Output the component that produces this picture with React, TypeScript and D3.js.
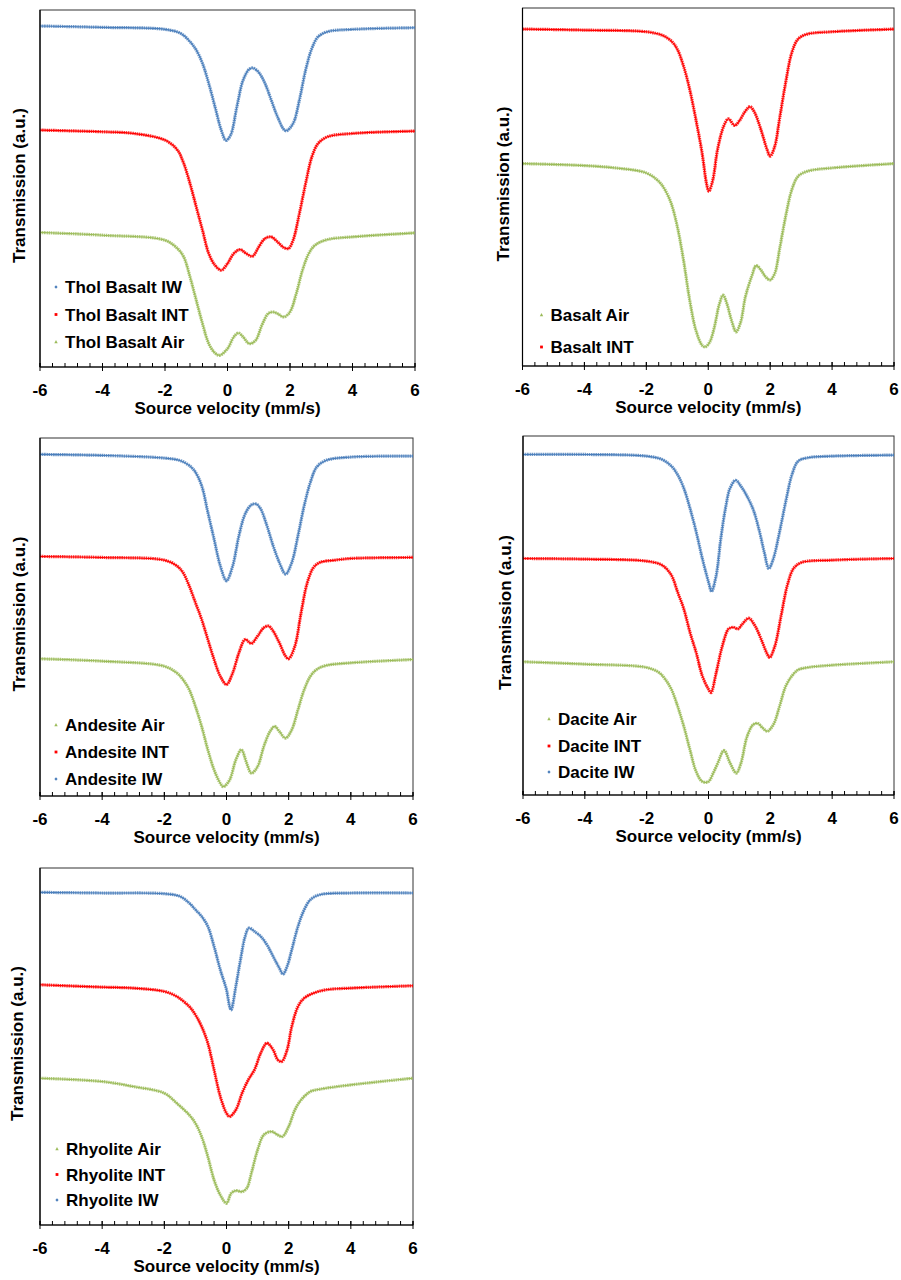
import React from "react";
import * as d3 from "d3";

type Pt = [number, number];

// ---------- DATA (source velocity mm/s, transmission a.u.) ----------
const xTicks = [-6, -4, -2, 0, 2, 4, 6];

const tholBasaltIW: Pt[] = [
  [-6, 102.2], [-4, 101.8], [-2, 101.2], [-1.5, 100], [-1.2, 97.5], [-1.0, 95], [-0.8, 91],
  [-0.6, 85], [-0.4, 78], [-0.2, 71], [-0.05, 67.9], [0.1, 69.5], [0.3, 78], [0.5, 86],
  [0.7, 89.3], [0.82, 89.6], [1.0, 88.3], [1.2, 85], [1.4, 80], [1.6, 75], [1.8, 71.2],
  [1.88, 70.8], [2.1, 73], [2.3, 80], [2.5, 89], [2.7, 95.5], [2.9, 99], [3.2, 100.5],
  [4, 101.2], [6, 101.7],
];
const tholBasaltINT: Pt[] = [
  [-6, 71], [-4, 70.5], [-3, 70], [-2, 68], [-1.6, 65], [-1.4, 61], [-1.2, 55], [-1.0, 48],
  [-0.8, 41], [-0.6, 34], [-0.4, 30.5], [-0.2, 29], [0, 31], [0.2, 34], [0.4, 35.2],
  [0.6, 34], [0.8, 33.2], [1.0, 36], [1.2, 38.5], [1.4, 39], [1.6, 37.5], [1.8, 35.8],
  [1.95, 35.5], [2.1, 38], [2.3, 46], [2.5, 55], [2.7, 63], [2.9, 67], [3.2, 69], [4, 70],
  [6, 70.7],
];
const tholBasaltAir: Pt[] = [
  [-6, 40.3], [-4, 39.5], [-2, 38], [-1.6, 35.5], [-1.4, 33], [-1.2, 27], [-1.0, 20],
  [-0.8, 13], [-0.6, 7], [-0.4, 4.2], [-0.25, 3.5], [0, 5.5], [0.2, 9], [0.35, 10.2],
  [0.5, 9], [0.7, 7], [0.9, 8], [1.1, 12.5], [1.3, 16], [1.45, 16.5], [1.6, 16], [1.8, 15],
  [2.0, 16.5], [2.2, 22], [2.4, 29], [2.6, 34], [2.8, 36.5], [3.2, 38.2], [4, 39], [6, 40.2],
];

const basaltINT: Pt[] = [
  [-6, 100.7], [-4, 100.4], [-2, 99.9], [-1.5, 98.9], [-1.2, 97.2], [-1.0, 94.7], [-0.8, 89.7],
  [-0.6, 82.7], [-0.4, 73.7], [-0.2, 63.7], [-0.05, 54.2], [0.02, 52.2], [0.15, 55.7],
  [0.3, 64.7], [0.5, 71.7], [0.65, 73.9], [0.85, 71.9], [1.0, 73.2], [1.2, 76.2],
  [1.35, 77.5], [1.5, 75.7], [1.7, 70.7], [1.9, 64.7], [2.0, 62.7], [2.15, 65.7],
  [2.3, 73.7], [2.5, 84.7], [2.7, 93.7], [2.9, 97.7], [3.2, 99.2], [4, 99.9], [6, 100.7],
];
const basaltAir: Pt[] = [
  [-6, 60.5], [-4, 59.9], [-3, 59.2], [-2, 57.7], [-1.6, 55.2], [-1.4, 52.7], [-1.2, 48.7],
  [-1.0, 41.7], [-0.8, 31.7], [-0.6, 19.7], [-0.4, 10.7], [-0.2, 6.2], [-0.1, 5.7],
  [0.05, 7.2], [0.2, 11.7], [0.35, 18.2], [0.48, 21.2], [0.6, 18.7], [0.75, 13.7],
  [0.9, 10.2], [1.05, 13.2], [1.2, 20.7], [1.4, 26.7], [1.55, 30.0], [1.7, 28.7],
  [1.85, 26.7], [2.0, 25.7], [2.15, 27.7], [2.3, 34.7], [2.5, 44.7], [2.7, 52.7],
  [2.9, 56.7], [3.2, 58.2], [4, 59.2], [6, 60.5],
];

const andesiteIW: Pt[] = [
  [-6, 102.1], [-4, 101.8], [-2, 101.0], [-1.5, 100.3], [-1.2, 98.8], [-1.0, 96.8],
  [-0.8, 92.8], [-0.6, 84.8], [-0.4, 76.8], [-0.2, 68.8], [0, 64.3], [0.2, 68.8],
  [0.4, 77.8], [0.6, 84.3], [0.8, 87.0], [0.95, 87.3], [1.1, 85.8], [1.3, 80.8],
  [1.5, 74.8], [1.7, 69.8], [1.9, 66.3], [2.1, 69.8], [2.3, 77.8], [2.5, 86.8],
  [2.7, 93.8], [2.9, 98.3], [3.2, 100.3], [4, 101.3], [6, 101.6],
];
const andesiteINT: Pt[] = [
  [-6, 71.6], [-4, 71.3], [-2, 70.5], [-1.6, 68.8], [-1.4, 66.8], [-1.2, 62.8], [-1.0, 57.8],
  [-0.8, 52.8], [-0.6, 46.8], [-0.4, 40.8], [-0.2, 35.8], [0, 33.3], [0.2, 36.8],
  [0.4, 42.8], [0.6, 46.8], [0.8, 45.6], [1.0, 47.8], [1.2, 50.3], [1.35, 50.8],
  [1.5, 49.3], [1.7, 45.8], [1.9, 41.8], [2.0, 41.0], [2.2, 44.8], [2.4, 54.8],
  [2.6, 63.8], [2.8, 68.3], [3.0, 69.8], [3.5, 70.5], [4, 71.0], [6, 71.3],
];
const andesiteAir: Pt[] = [
  [-6, 41.0], [-4, 40.3], [-2, 38.8], [-1.6, 36.8], [-1.4, 34.8], [-1.2, 31.8], [-1.0, 26.8],
  [-0.8, 20.8], [-0.6, 13.8], [-0.4, 7.8], [-0.2, 3.8], [-0.1, 2.8], [0.1, 4.8],
  [0.3, 10.8], [0.48, 13.8], [0.65, 9.8], [0.8, 6.8], [1.0, 8.8], [1.2, 14.8],
  [1.4, 19.3], [1.55, 20.8], [1.7, 19.3], [1.9, 17.3], [2.1, 19.8], [2.3, 25.8],
  [2.5, 31.8], [2.7, 35.8], [2.9, 37.8], [3.2, 39.0], [4, 39.8], [6, 40.8],
];

const daciteIW: Pt[] = [
  [-6, 101.5], [-4, 101.5], [-2, 101.0], [-1.5, 100.0], [-1.2, 98.0], [-1.0, 95.5],
  [-0.8, 91.5], [-0.6, 85.5], [-0.4, 78.5], [-0.2, 70.5], [0, 63.5], [0.1, 60.7],
  [0.25, 65.5], [0.4, 76.5], [0.55, 85.5], [0.7, 91.5], [0.88, 93.8], [1.05, 92.0],
  [1.25, 89.0], [1.45, 85.0], [1.65, 78.5], [1.8, 72.5], [1.95, 67.5], [2.1, 70.5],
  [2.3, 78.5], [2.5, 87.5], [2.7, 95.5], [2.9, 99.5], [3.2, 100.5], [4, 101.0], [6, 101.3],
];
const daciteINT: Pt[] = [
  [-6, 70.5], [-4, 70.3], [-2, 69.7], [-1.5, 68.5], [-1.2, 65.5], [-1.0, 60.5], [-0.8, 55.5],
  [-0.6, 48.5], [-0.4, 42.5], [-0.2, 35.5], [0, 31.5], [0.08, 30.5], [0.25, 36.5],
  [0.45, 44.5], [0.65, 49.5], [0.8, 50.0], [0.95, 49.5], [1.1, 51.0], [1.3, 52.7],
  [1.5, 50.5], [1.7, 46.5], [1.9, 42.0], [1.98, 41.0], [2.15, 44.5], [2.35, 53.5],
  [2.55, 62.5], [2.75, 67.5], [3.0, 69.3], [4, 70.0], [6, 70.5],
];
const daciteAir: Pt[] = [
  [-6, 39.7], [-4, 39.0], [-2, 38.0], [-1.6, 36.5], [-1.4, 34.5], [-1.2, 31.5], [-1.0, 26.5],
  [-0.8, 20.5], [-0.6, 13.5], [-0.4, 7.0], [-0.2, 4.0], [0, 4.0], [0.15, 6.5], [0.3, 9.5],
  [0.5, 13.3], [0.7, 9.5], [0.9, 6.5], [1.05, 9.5], [1.25, 17.5], [1.45, 21.0],
  [1.6, 21.3], [1.75, 20.0], [1.9, 19.0], [2.1, 21.0], [2.3, 26.5], [2.5, 32.5],
  [2.7, 35.5], [2.9, 37.3], [3.2, 38.0], [4, 38.7], [6, 39.7],
];

const rhyoliteIW: Pt[] = [
  [-6, 99.7], [-4, 99.5], [-2, 99.3], [-1.5, 98.5], [-1.2, 96.5], [-1.0, 94.5], [-0.8, 92.5],
  [-0.6, 89.5], [-0.4, 83.5], [-0.2, 76.5], [0, 70.5], [0.1, 65.5], [0.15, 64.5],
  [0.3, 71.5], [0.45, 79.5], [0.6, 86.5], [0.72, 89.0], [0.9, 88.0], [1.1, 86.5],
  [1.3, 84.0], [1.5, 80.5], [1.7, 77.0], [1.82, 75.2], [1.95, 77.5], [2.1, 82.5],
  [2.3, 89.5], [2.5, 94.5], [2.7, 97.5], [3.0, 99.0], [4, 99.5], [6, 99.5],
];
const rhyoliteINT: Pt[] = [
  [-6, 72.0], [-4, 71.3], [-3, 71.0], [-2, 70.0], [-1.6, 68.5], [-1.2, 65.5], [-1.0, 63.0],
  [-0.8, 59.5], [-0.6, 54.5], [-0.4, 46.5], [-0.2, 38.5], [0, 33.5], [0.1, 32.5],
  [0.3, 34.5], [0.5, 39.5], [0.7, 43.5], [0.9, 46.5], [1.1, 51.5], [1.3, 54.5],
  [1.5, 52.5], [1.65, 49.5], [1.78, 49.0], [1.95, 52.5], [2.1, 59.5], [2.3, 65.5],
  [2.5, 68.0], [2.8, 69.5], [3.2, 70.5], [4, 71.0], [6, 71.7],
];
const rhyoliteAir: Pt[] = [
  [-6, 44.0], [-4, 43.0], [-3, 41.5], [-2, 39.5], [-1.6, 36.5], [-1.2, 33.0], [-1.0, 30.5],
  [-0.8, 26.5], [-0.6, 20.5], [-0.4, 13.5], [-0.2, 9.0], [0, 6.5], [0.15, 9.5],
  [0.3, 10.3], [0.5, 10.0], [0.65, 11.0], [0.8, 15.5], [1.0, 22.5], [1.2, 27.0],
  [1.45, 28.0], [1.65, 27.0], [1.8, 26.5], [2.0, 29.5], [2.2, 34.5], [2.4, 37.5],
  [2.7, 40.0], [3.0, 40.7], [4, 42.0], [6, 44.0],
];

// ---------- STYLE ----------
const BLUE = "#4a7ebb";
const RED = "#ff0000";
const GREEN = "#9bbb59";
const FONT = "Arial, 'Liberation Sans', Helvetica, sans-serif";

type Kind = "IW" | "INT" | "Air";
const colorOf: Record<Kind, string> = { IW: BLUE, INT: RED, Air: GREEN };

interface Series { name: string; kind: Kind; data: Pt[] }
interface Panel {
  left: number; top: number; width: number; height: number;
  yLabelDx: number; legendRows: number[]; legendX: number;
  curves: Series[]; legend: Series[];
}

const s = (name: string, kind: Kind, data: Pt[]): Series => ({ name, kind, data });

const TBIW = s("Thol Basalt IW", "IW", tholBasaltIW);
const TBINT = s("Thol Basalt INT", "INT", tholBasaltINT);
const TBAir = s("Thol Basalt Air", "Air", tholBasaltAir);
const BAir = s("Basalt Air", "Air", basaltAir);
const BINT = s("Basalt INT", "INT", basaltINT);
const AAir = s("Andesite Air", "Air", andesiteAir);
const AINT = s("Andesite INT", "INT", andesiteINT);
const AIW = s("Andesite IW", "IW", andesiteIW);
const DAir = s("Dacite Air", "Air", daciteAir);
const DINT = s("Dacite INT", "INT", daciteINT);
const DIW = s("Dacite IW", "IW", daciteIW);
const RAir = s("Rhyolite Air", "Air", rhyoliteAir);
const RINT = s("Rhyolite INT", "INT", rhyoliteINT);
const RIW = s("Rhyolite IW", "IW", rhyoliteIW);

const panels: Panel[] = [
  { left: 40, top: 10, width: 375, height: 357, yLabelDx: -21, legendRows: [277, 304.5, 332], legendX: 16,
    curves: [TBAir, TBINT, TBIW], legend: [TBIW, TBINT, TBAir] },
  { left: 522.5, top: 8, width: 371.5, height: 358, yLabelDx: -19.5, legendRows: [307, 339], legendX: 19,
    curves: [BAir, BINT], legend: [BAir, BINT] },
  { left: 40, top: 438, width: 373, height: 358, yLabelDx: -21, legendRows: [287, 314, 341], legendX: 16,
    curves: [AAir, AINT, AIW], legend: [AAir, AINT, AIW] },
  { left: 523, top: 436, width: 371, height: 359, yLabelDx: -18, legendRows: [283, 310, 336], legendX: 26,
    curves: [DAir, DINT, DIW], legend: [DAir, DINT, DIW] },
  { left: 40, top: 868, width: 373, height: 357, yLabelDx: -23, legendRows: [281, 306.5, 332], legendX: 17,
    curves: [RAir, RINT, RIW], legend: [RAir, RINT, RIW] },
];

function Marker({ kind, x, y }: { kind: Kind; x: number; y: number }) {
  const c = colorOf[kind];
  if (kind === "IW") return <path d={`M${x},${y - 1.8}L${x + 1.6},${y}L${x},${y + 1.8}L${x - 1.6},${y}Z`} fill={c} />;
  if (kind === "INT") return <rect x={x - 1.4} y={y - 1.4} width={2.8} height={2.8} fill={c} />;
  return <path d={`M${x},${y - 1.9}L${x + 1.7},${y + 1.3}L${x - 1.7},${y + 1.3}Z`} fill={c} />;
}

function PanelView({ p, idx }: { p: Panel; idx: number }) {
  const x = d3.scaleLinear().domain([-6, 6]).range([0, p.width]);
  const y = d3.scaleLinear().domain([0, 107]).range([p.height, 0]);
  const line = d3.line<Pt>().x((d) => x(d[0])).y((d) => y(d[1])).curve(d3.curveCatmullRom.alpha(0.5));
  const minor = d3.range(-6, 6.0001, 0.4);
  const clipId = `clip${idx}`;
  return (
    <g transform={`translate(${p.left},${p.top})`}>
      <defs>
        <clipPath id={clipId}><rect x={0} y={0} width={p.width} height={p.height} /></clipPath>
      </defs>
      <rect x={0} y={0} width={p.width} height={p.height} fill="none" stroke="#333" strokeWidth={1} />
      <g clipPath={`url(#${clipId})`}>
        {p.curves.map((c) => (
          <g key={c.name}>
            <path d={line(c.data) || ""} fill="none" stroke={colorOf[c.kind]} strokeWidth={3.2}
              strokeDasharray="1.5 0.7" opacity={0.8} />
            <path d={line(c.data) || ""} fill="none" stroke={colorOf[c.kind]} strokeWidth={1.1} />
          </g>
        ))}
      </g>
      <line x1={0} x2={0} y1={0} y2={p.height} stroke="#000" strokeWidth={1.2} />
      <line x1={0} x2={p.width} y1={p.height} y2={p.height} stroke="#000" strokeWidth={1.2} />
      {minor.map((t) => (
        <line key={"m" + t} x1={x(t)} x2={x(t)} y1={p.height - 4} y2={p.height} stroke="#000" strokeWidth={1} />
      ))}
      {xTicks.map((t) => (
        <g key={"t" + t}>
          <line x1={x(t)} x2={x(t)} y1={p.height - 4} y2={p.height + 4} stroke="#000" strokeWidth={1} />
          <text x={x(t)} y={p.height + 29} textAnchor="middle" fontFamily={FONT} fontWeight="bold" fontSize={17} fill="#000">
            {t}
          </text>
        </g>
      ))}
      <text x={p.width / 2} y={p.height + 46.5} textAnchor="middle" fontFamily={FONT} fontWeight="bold" fontSize={17} fill="#000">
        Source velocity (mm/s)
      </text>
      <text transform={`translate(${p.yLabelDx + 6},${p.height / 2 - 3}) rotate(-90)`} textAnchor="middle"
        fontFamily={FONT} fontWeight="bold" fontSize={17} fill="#000">
        Transmission (a.u.)
      </text>
      {p.legend.map((c, i) => (
        <g key={"l" + c.name}>
          <Marker kind={c.kind} x={p.legendX} y={p.legendRows[i]} />
          <text x={p.legendX + 9} y={p.legendRows[i] + 6} fontFamily={FONT} fontWeight="bold" fontSize={17} fill="#000">
            {c.name}
          </text>
        </g>
      ))}
    </g>
  );
}

export default function App() {
  return (
    <svg width={901} height={1280} viewBox="0 0 901 1280"
      style={{ position: "absolute", left: 0, top: 0, background: "#fff" }}>
      <rect x={0} y={0} width={901} height={1280} fill="#fff" />
      {panels.map((p, i) => <PanelView key={i} p={p} idx={i} />)}
    </svg>
  );
}
